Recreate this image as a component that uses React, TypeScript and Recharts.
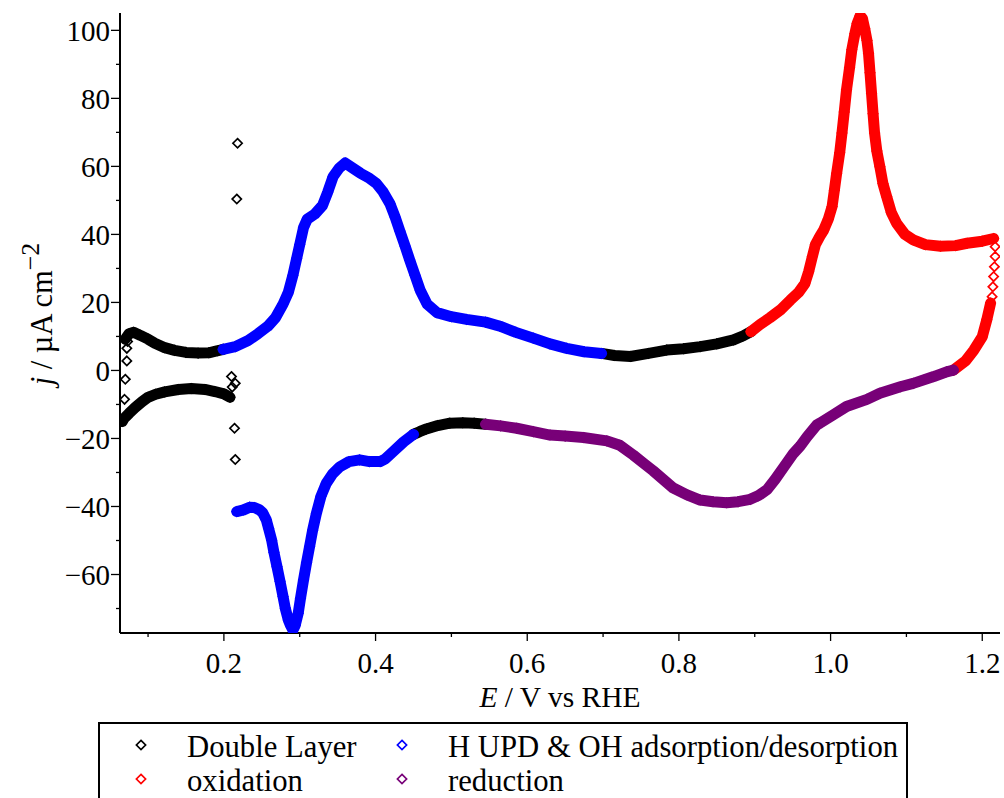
import { Scatter, ScatterChart, XAxis, YAxis } from "recharts";

const FONT = '"Liberation Serif", "Times New Roman", serif';

// axis ranges and ticks (E in V vs RHE, j in µA cm^-2)
const xDomain: [number, number] = [0.063, 1.2234];
const yDomain: [number, number] = [-77.2, 105.1];
const xMajorTicks = [0.2, 0.4, 0.6, 0.8, 1.0, 1.2];
const xMinorTicks = [0.1, 0.3, 0.5, 0.7, 0.9, 1.1];
const yMajorTicks = [-60, -40, -20, 0, 20, 40, 60, 80, 100];
const yMinorTicks = [-70, -50, -30, -10, 10, 30, 50, 70, 90];

// [E, j]
const dlAnodicLow = [
  [0.070, 9.2], [0.075, 10.8], [0.081, 11.2], [0.090, 10.3], [0.100, 9.2], [0.109, 8.0],
  [0.122, 6.7], [0.135, 5.9], [0.150, 5.3], [0.166, 5.1], [0.180, 5.2], [0.192, 5.8], [0.199, 6.2]
];
const dlCathodicLow = [
  [0.208, -7.9], [0.200, -6.9], [0.188, -6.2], [0.175, -5.6], [0.157, -5.3], [0.140, -5.6],
  [0.122, -6.3], [0.110, -7.0], [0.100, -7.9], [0.092, -9.2], [0.083, -10.9], [0.075, -12.6],
  [0.068, -14.2], [0.066, -15.0]
];
const dlStray = [
  [0.073, 8.5], [0.072, 6.5], [0.072, 2.8], [0.070, -2.6], [0.069, -8.5],
  [0.210, -1.8], [0.215, -3.8], [0.211, -4.9], [0.214, -17.0], [0.215, -26.2],
  [0.217, 50.4], [0.218, 66.8]
];
const dlAnodicHigh = [
  [0.698, 5.0], [0.715, 4.4], [0.736, 4.1], [0.760, 5.0], [0.784, 6.0], [0.806, 6.4],
  [0.828, 7.0], [0.850, 7.8], [0.872, 9.0], [0.885, 10.2], [0.895, 11.4]
];
const dlCathodicHigh = [
  [0.545, -15.8], [0.530, -15.5], [0.515, -15.4], [0.498, -15.5], [0.482, -16.2],
  [0.467, -17.2], [0.458, -18.0], [0.450, -18.8]
];

const hupdAnodic = [
  [0.199, 6.2], [0.215, 7.0], [0.232, 8.8], [0.245, 10.8], [0.258, 13.0], [0.268, 15.5],
  [0.278, 19.5], [0.285, 23.0], [0.291, 28.0], [0.296, 33.0], [0.300, 37.0], [0.305, 42.0],
  [0.310, 44.5], [0.320, 46.0], [0.330, 48.5], [0.337, 52.5], [0.344, 57.0], [0.352, 59.5],
  [0.360, 61.0], [0.370, 59.5], [0.380, 58.0], [0.392, 56.5], [0.401, 55.0], [0.410, 52.5],
  [0.419, 49.0], [0.426, 45.0], [0.432, 41.0], [0.439, 36.5], [0.445, 32.5], [0.452, 28.0],
  [0.459, 23.5], [0.468, 19.5], [0.481, 17.0], [0.500, 15.8], [0.520, 15.0], [0.545, 14.2],
  [0.564, 13.0], [0.585, 11.2], [0.608, 9.5], [0.630, 7.8], [0.652, 6.5], [0.675, 5.5],
  [0.698, 5.0]
];
const hupdCathodic = [
  [0.450, -18.8], [0.437, -21.0], [0.423, -23.9], [0.413, -26.0], [0.406, -26.8],
  [0.392, -26.8], [0.379, -26.3], [0.365, -26.8], [0.353, -28.3], [0.343, -30.5],
  [0.335, -33.2], [0.328, -37.0], [0.322, -42.0], [0.317, -47.0], [0.313, -51.8],
  [0.309, -56.5], [0.305, -61.6], [0.301, -67.0], [0.298, -71.4], [0.294, -75.0],
  [0.291, -76.3], [0.288, -75.0], [0.285, -73.4], [0.281, -70.0], [0.278, -66.5],
  [0.274, -62.0], [0.270, -57.7], [0.266, -53.5], [0.263, -49.9], [0.259, -46.5],
  [0.256, -44.0], [0.251, -41.8], [0.247, -41.0], [0.240, -40.3], [0.234, -40.2],
  [0.226, -41.0], [0.217, -41.5]
];

const oxAnodic = [
  [0.895, 11.4], [0.907, 13.5], [0.920, 15.5], [0.935, 18.0], [0.947, 20.7], [0.958, 23.0],
  [0.966, 25.5], [0.971, 29.0], [0.976, 33.5], [0.980, 37.0], [0.986, 39.5], [0.991, 41.3],
  [0.997, 44.5], [1.002, 48.2], [1.005, 53.0], [1.008, 58.0], [1.012, 64.0], [1.015, 69.8],
  [1.018, 76.0], [1.021, 82.5], [1.025, 89.0], [1.028, 94.3], [1.032, 99.0], [1.035, 102.0],
  [1.039, 104.3], [1.042, 103.5], [1.045, 100.5], [1.048, 97.0], [1.050, 93.3], [1.052, 87.5],
  [1.054, 81.5], [1.056, 75.5], [1.058, 69.8], [1.061, 64.5], [1.065, 59.9], [1.069, 55.0],
  [1.074, 51.1], [1.080, 46.5], [1.087, 43.3], [1.098, 40.0], [1.109, 38.4], [1.125, 37.0],
  [1.145, 36.5], [1.165, 36.7], [1.180, 37.4], [1.200, 38.0], [1.215, 38.8]
];
const oxTurn = [
  [1.217, 36.4], [1.217, 33.5], [1.216, 30.5], [1.215, 27.6], [1.214, 24.6], [1.213, 21.7]
];
const oxCathodic = [
  [1.211, 19.8], [1.206, 14.9], [1.200, 9.9], [1.189, 6.0], [1.178, 2.8], [1.162, 0.1]
];

const reduction = [
  [1.162, 0.1], [1.153, -0.4], [1.136, -1.8], [1.109, -3.8], [1.092, -4.8], [1.065, -6.7],
  [1.048, -8.5], [1.021, -10.6], [1.004, -13.0], [0.986, -15.5], [0.982, -16.0], [0.969, -19.5],
  [0.960, -22.2], [0.951, -24.4], [0.938, -28.5], [0.927, -32.0], [0.916, -35.1], [0.905, -36.8],
  [0.894, -37.9], [0.878, -38.6], [0.863, -38.9], [0.845, -38.6], [0.828, -38.1], [0.810, -36.5],
  [0.792, -34.5], [0.779, -32.0], [0.766, -29.5], [0.753, -27.2], [0.740, -24.9], [0.722, -22.0],
  [0.705, -20.7], [0.674, -19.7], [0.650, -19.3], [0.630, -19.0], [0.608, -18.0], [0.586, -17.0],
  [0.565, -16.3], [0.545, -15.8]
];

const seriesInfo = [
  { key: "dl", name: "Double Layer", color: "#000000" },
  { key: "hupd", name: "H UPD & OH adsorption/desorption", color: "#0000ff" },
  { key: "ox", name: "oxidation", color: "#ff0000" },
  { key: "red", name: "reduction", color: "#780078" }
];

const segments = [
  { series: "dl", points: dlAnodicLow, joined: true },
  { series: "dl", points: dlCathodicLow, joined: true },
  { series: "dl", points: dlAnodicHigh, joined: true },
  { series: "dl", points: dlCathodicHigh, joined: true },
  { series: "dl", points: dlStray, joined: false },
  { series: "hupd", points: hupdAnodic, joined: true },
  { series: "hupd", points: hupdCathodic, joined: true },
  { series: "ox", points: oxAnodic, joined: true },
  { series: "ox", points: oxTurn, joined: false },
  { series: "ox", points: oxCathodic, joined: true },
  { series: "red", points: reduction, joined: true }
];

const colorOf = (key: string) => seriesInfo.find((s) => s.key === key)!.color;

function diamondPath(cx: number, cy: number, r: number) {
  return `M${cx},${cy - r}L${cx + r},${cy}L${cx},${cy + r}L${cx - r},${cy}Z`;
}

const diamond = (color: string) => (props: any) => {
  const { cx, cy } = props;
  if (cx == null || cy == null) return <g />;
  return <path d={diamondPath(cx, cy, 4.6)} fill="none" stroke={color} strokeWidth={1.7} />;
};

const fmt = (v: number) => (v < 0 ? `\u2212${-v}` : `${v}`);

function XTick(props: any) {
  const { x, y, payload } = props;
  const major = xMajorTicks.includes(payload.value);
  return (
    <g>
      <line x1={x} x2={x} y1={y} y2={y + (major ? 8 : 4)} stroke="#000" strokeWidth={1.3} />
      {major && (
        <text x={x} y={y + 40} textAnchor="middle" fontFamily={FONT} fontSize={29} fill="#000">
          {payload.value.toFixed(1)}
        </text>
      )}
    </g>
  );
}

function YTick(props: any) {
  const { x, y, payload } = props;
  const major = yMajorTicks.includes(payload.value);
  return (
    <g>
      <line x1={x - (major ? 9 : 4)} x2={x} y1={y} y2={y} stroke="#000" strokeWidth={1.3} />
      {major && (
        <text x={x - 10} y={y + 10.5} textAnchor="end" fontFamily={FONT} fontSize={29} fill="#000">
          {fmt(payload.value)}
        </text>
      )}
    </g>
  );
}

function Overlay() {
  const cols = [141, 402];
  const rows = [745, 779];
  return (
    <svg width={1004} height={798} style={{ position: "absolute", left: 0, top: 0, pointerEvents: "none" }}>
      <text x={560} y={707} textAnchor="middle" fontFamily={FONT} fontSize={29.5} fill="#000">
        <tspan fontStyle="italic">E</tspan> / V vs RHE
      </text>
      <text
        x={0}
        y={0}
        transform="translate(52, 314) rotate(-90)"
        textAnchor="middle"
        fontFamily={FONT}
        fontSize={30.5}
        fill="#000"
      >
        <tspan fontStyle="italic">j</tspan> / µA cm
        <tspan dy={-13} fontSize={26}>{"\u22122"}</tspan>
      </text>
      <rect x={99} y={723} width={808} height={100} fill="none" stroke="#000" strokeWidth={2} />
      {seriesInfo.map((s, i) => {
        const cx = cols[i % 2];
        const cy = rows[Math.floor(i / 2)];
        return (
          <g key={s.key}>
            <path d={diamondPath(cx, cy, 4.6)} fill="none" stroke={s.color} strokeWidth={1.7} />
            <text x={cx + 46} y={cy + 11.5} fontFamily={FONT} fontSize={30.7} fill="#000">
              {s.name}
            </text>
          </g>
        );
      })}
    </svg>
  );
}

export default function App() {
  const frame = { stroke: "#000", strokeWidth: 2 };
  return (
    <div
      style={{
        position: "absolute",
        left: 0,
        top: 0,
        width: 1004,
        height: 798,
        overflow: "hidden",
        background: "#fff"
      }}
    >
      <ScatterChart width={1004} height={798} margin={{ top: 13, right: 4, bottom: 105, left: 20 }}>
        <XAxis
          type="number"
          dataKey="x"
          domain={xDomain}
          allowDataOverflow
          ticks={[...xMinorTicks, ...xMajorTicks].sort((a, b) => a - b)}
          interval={0}
          tick={<XTick />}
          tickLine={false}
          tickSize={0}
          tickMargin={0}
          height={60}
          axisLine={frame}
        />
        <YAxis
          type="number"
          dataKey="y"
          domain={yDomain}
          allowDataOverflow
          ticks={[...yMinorTicks, ...yMajorTicks].sort((a, b) => a - b)}
          interval={0}
          tick={<YTick />}
          tickLine={false}
          tickSize={0}
          tickMargin={0}
          width={100}
          axisLine={frame}
        />
        <XAxis
          xAxisId="top"
          orientation="top"
          type="number"
          domain={xDomain}
          allowDataOverflow
          height={0}
          tick={false}
          tickLine={false}
          axisLine={frame}
        />
        <YAxis
          yAxisId="right"
          orientation="right"
          type="number"
          domain={yDomain}
          allowDataOverflow
          width={0}
          tick={false}
          tickLine={false}
          axisLine={frame}
        />
        {segments.map((seg, i) => {
          const color = colorOf(seg.series);
          return (
            <Scatter
              key={i}
              data={seg.points.map(([x, y]) => ({ x, y }))}
              fill="none"
              shape={diamond(color)}
              line={
                seg.joined
                  ? { stroke: color, strokeWidth: 11, strokeLinejoin: "round", strokeLinecap: "round" }
                  : false
              }
              lineType="joint"
              lineJointType="linear"
              isAnimationActive={false}
            />
          );
        })}
      </ScatterChart>
      <Overlay />
    </div>
  );
}
